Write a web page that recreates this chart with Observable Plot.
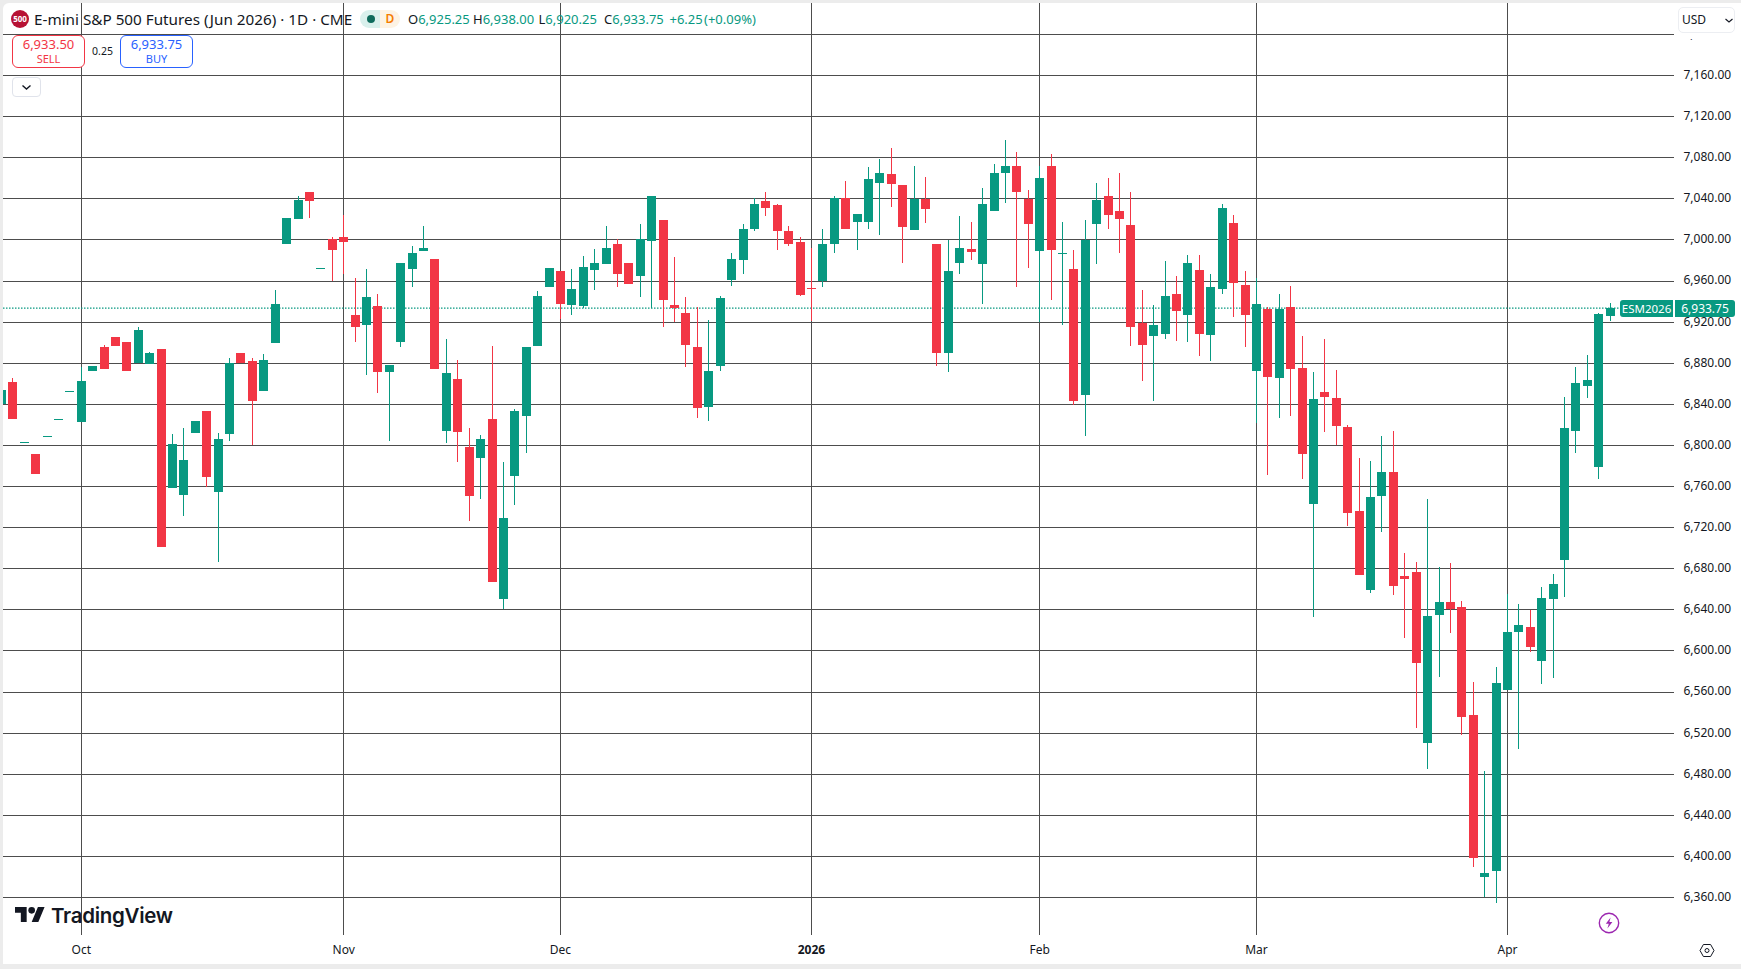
<!DOCTYPE html>
<html><head><meta charset="utf-8">
<style>
html,body{margin:0;padding:0;background:#ececec;width:1741px;height:969px;overflow:hidden}
#pane{position:absolute;left:3px;top:3px;width:1738px;height:961px;background:#fff;border-top-left-radius:6px}
#chart{position:absolute;left:0;top:0}
#chart svg{background:transparent!important;display:block}
.o{position:absolute;box-sizing:border-box;white-space:nowrap;font-family:"Noto Sans",sans-serif;color:#131722}
.box{border-radius:6px;background:#fff;text-align:center}
.box b{position:absolute;left:0;right:0;font-weight:400}
.q{position:absolute;top:10px;font-size:13px;line-height:18px;color:#089981;font-family:"Noto Sans",sans-serif;white-space:nowrap}
.q i{font-style:normal;color:#131722}
</style>
<script src="https://cdn.jsdelivr.net/npm/d3@7"></script>
<script src="https://cdn.jsdelivr.net/npm/@observablehq/plot@0.6"></script>
</head><body>
<div id="pane"></div>
<div id="chart"></div>

<div class="o" style="left:11px;top:10px;width:18px;height:18px;border-radius:50%;background:#b71234;color:#fff;font-size:8px;font-weight:700;line-height:18px;text-align:center">500</div>
<div class="o" id="title" style="left:34px;top:9px;font-size:15.25px;line-height:20px">E-mini S&amp;P 500 Futures (Jun 2026) · 1D · CME</div>
<div class="o" style="left:360px;top:10px;width:20px;height:18px;background:#d9f0ec;border-radius:9px 0 0 9px"></div>
<div class="o" style="left:380px;top:10px;width:20px;height:18px;background:#fdf3e4;border-radius:0 9px 9px 0;color:#f57c00;font-size:12px;font-weight:600;line-height:18px;text-align:center">D</div>
<div class="o" style="left:367px;top:15px;width:8px;height:8px;border-radius:50%;background:#0e6b5c"></div>
<div class="q" style="left:408px"><i>O</i>6,925.25</div>
<div class="q" style="left:473px"><i>H</i>6,938.00</div>
<div class="q" style="left:538.5px"><i>L</i>6,920.25</div>
<div class="q" style="left:604px"><i>C</i>6,933.75</div>
<div class="q" style="left:669.5px">+6.25</div>
<div class="q" style="left:704px">(+0.09%)</div>

<div class="o box" style="left:12px;top:35px;width:73px;height:33px;border:1px solid #f23645;color:#f23645"><b style="top:-1px;font-size:13px;line-height:18px">6,933.50</b><b style="top:16px;font-size:11px;line-height:14px">SELL</b></div>
<div class="o" style="left:86px;top:43px;width:33px;text-align:center;font-size:10.5px;line-height:16px">0.25</div>
<div class="o box" style="left:120px;top:35px;width:73px;height:33px;border:1px solid #2962ff;color:#2962ff"><b style="top:-1px;font-size:13px;line-height:18px">6,933.75</b><b style="top:16px;font-size:11px;line-height:14px">BUY</b></div>
<div class="o" style="left:12px;top:77px;width:29px;height:20px;border:1px solid #e0e3eb;border-radius:4px;background:#fff">
<svg width="27" height="18" style="position:absolute;left:0;top:0"><path d="M9.5 7.5 L13.5 11 L17.5 7.5" fill="none" stroke="#131722" stroke-width="1.4"/></svg></div>

<div class="o" style="left:1675px;top:3px;width:66px;height:35.5px;background:#fff"></div>
<div class="o" style="left:1678px;top:7px;width:57px;height:26px;border:1px solid #eceef2;border-radius:5px;font-size:12px;line-height:24px;padding-left:3px;background:#fff">USD
<svg width="10" height="8" style="position:absolute;left:45px;top:9px"><path d="M1.5 2 L5 5 L8.5 2" fill="none" stroke="#131722" stroke-width="1.1"/></svg></div>

<div class="o" style="left:1620px;top:300px;width:53px;height:17px;background:#089981;color:#fff;font-size:11.5px;line-height:17px;text-align:center;border-radius:3px 0 0 3px">ESM2026</div>
<div class="o" style="left:1675px;top:300px;width:60px;height:17px;background:#089981;color:#fff;font-size:12px;line-height:17px;text-align:center;border-radius:0 3px 3px 0">6,933.75</div>

<svg class="o" style="left:15px;top:907px" width="30" height="15" viewBox="0 4 36 18"><path fill="#131722" d="M14 22H7V11H0V4h14v18zM28 22h-8l7.5-18h8L28 22z"/><circle fill="#131722" cx="20" cy="8" r="4"/></svg>
<div class="o" style="left:51px;top:902px;font-family:Inter,sans-serif;font-size:20.5px;font-weight:600;line-height:28px;letter-spacing:-.3px">TradingView</div>

<svg class="o" style="left:1598px;top:912px" width="22" height="22"><circle cx="11" cy="11" r="9.7" fill="#fff" stroke="#9c27b0" stroke-width="1.4"/><path d="M12.6 5.5 L7.8 11.8 H10.8 L9.4 16.5 L14.4 10 H11.4 Z" fill="#9c27b0"/></svg>
<svg class="o" style="left:1699px;top:943px" width="16" height="15"><path d="M4.4 1.5 H11.6 L15 7.5 L11.6 13.5 H4.4 L1 7.5 Z" fill="none" stroke="#131722" stroke-width="1"/><circle cx="8" cy="7.5" r="2" fill="none" stroke="#131722"/></svg>

<script>
const opens=[6839.5,6860.9,6801.5,6790.8,6807.5,6824,6851.25,6821.9,6872.5,6894.9,6904.7,6899.8,6880,6878.4,6893.9,6757.7,6750.9,6811.2,6832.6,6753.8,6810.3,6889.1,6881.3,6852.1,6898.8,6996.1,7019.5,7045.8,6971,7000,7002.9,6926.1,6916.3,6934.8,6870.6,6899.8,6970.8,6988.4,6980.6,6813.2,
6863.8,6797.6,6786.9,6824.9,6649.7,6769.4,6828.7,6895.9,6953.3,6968.9,6935.8,6934.8,6969.9,6975.7,6995.2,6977.6,6964,6998.1,7018.5,6935.8,6928,6894.9,6836.5,6876.4,6960.1,6979.6,7010.7,7037,7033.1,7007.8,6997.1,6952.5,6959.8,6995.2,7039.9,7016.6,7016.6,7054.5,
7063.3,7052.6,7008.8,7039,6995.2,6890,6976.7,6990.3,6975.7,7027.3,7065.2,7071.1,7039,6988.4,7071.1,6985.6,6970.8,6848.2,7014.6,7041.9,7027.3,7013.7,6918.3,6905.6,6908.5,6946.5,6926.1,6969.9,6906.6,6951.4,7015.6,6955.3,6872.5,6931.9,6864.8,6933.9,6874.5,6742.1,
6851.9,6846.1,6817.8,6736.1,6659.2,6750.7,6774,6672.8,6676.2,6509.8,6634.4,6647,6642.2,6537.1,6379.4,6385.2,6561.4,6617.8,6622.7,6589.6,6650,6688.4,6813.9,6857.7,6778.9,6925.25];
const highs=[6854,6864.8,6802.5,6790.8,6808.5,6825,6852.25,6876,6876.4,6897.8,6904.7,6899.8,6914.4,6890.4,6893.9,6810.3,6816.1,6822.9,6832.6,6811.2,6884.2,6889.1,6884.2,6888.1,6950.4,7020.5,7041.9,7045.8,6972,7002,7023.4,6962.1,6970.8,6946.5,6877.4,6977.6,6993.2,7012.7,6980.6,6902.7,
6882.3,6816.1,6809.3,6895.9,6783,6834.6,6894.9,6949.4,6971.8,6968.9,6970.8,6983.5,6990.3,7012.7,7000,6977.6,7014.6,7041.9,7018.5,6982.5,6943.6,6933.9,6921.2,6944.6,6986.4,7014.6,7039.9,7045.8,7035,7012.7,7002.9,6991.3,7009.8,7041.9,7057.4,7025.3,7070.1,7077.9,
7088.6,7052.6,7071.1,7060.4,6995.2,6999.1,7022.4,7016.6,7049.7,7073,7097.3,7084.7,7047.7,7071.1,7082.8,7017.5,6989.3,7018.5,7054.5,7059.4,7065.2,7045.8,6950.4,6935.8,6978.6,6964,6984.5,6984.5,6966,7035,7023.4,6968.9,6962.7,6933.9,6946.5,6954.3,6905.6,6870.6,
6903.5,6873.3,6819.8,6787.7,6784.8,6809.1,6813.9,6695.2,6686,6747.8,6680.8,6685,6648,6569.2,6482.6,6583.8,6654.8,6645.1,6639.3,6661.6,6674.3,6847,6876.2,6887.9,6928.8,6938];
const lows=[6839.5,6824.9,6801.5,6771.3,6807.5,6824,6851.25,6821.9,6872.5,6873.5,6895.9,6871.6,6880,6878.4,6700.3,6757.7,6730.5,6811.2,6758.7,6685.7,6803.4,6879.4,6800.2,6852.1,6898.8,6996.1,7019.5,7020.5,6971,6959.8,6966.9,6899.8,6868.6,6850.2,6803.4,6894.9,6953.3,6988.4,6873.5,6801.5,
6783,6725.6,6747,6666.2,6640,6741.2,6791.8,6895.9,6953.3,6922.2,6927,6932.9,6950.4,6975.7,6953.3,6956.2,6943.6,6932.9,6914.4,6919.3,6875.5,6825.8,6822.9,6871.6,6954.3,6966.9,7007.8,7022.4,6989.3,6993.2,6944.6,6920.2,6953.3,6986.4,7010.7,6989.3,7009.8,7003.9,
7031.2,6976.7,7008.8,7015.6,6876.4,6870.6,6966,6979.6,6937.7,7027.3,7036,6953.3,6971.8,6919.3,6940.7,6916.3,6838.5,6808.3,6975.7,7010.7,6986.4,6895.9,6861.8,6843.3,6902.7,6900.8,6899.8,6886.2,6881.3,6946.5,6924.1,6894.9,6821,6770.4,6825.8,6828.7,6766.5,6632.5,
6813,6800,6721.5,6673.8,6656.3,6715.7,6654.3,6612,6524.4,6484.5,6574,6616.9,6517.6,6389.1,6360,6354.1,6561.4,6504,6598.4,6567.2,6573.1,6652.4,6792.5,6846.1,6767.2,6920.25];
const closes=[6854,6824.9,6802.5,6771.3,6808.5,6825,6852.25,6861.8,6876.4,6873.5,6895.9,6871.6,6912.4,6889.1,6700.3,6800.5,6785,6822.9,6768.4,6805.4,6880,6879.4,6842.4,6883.2,6936.8,7020.5,7038,7037,6972,6989.3,6997.1,6914.4,6943.6,6870.6,6877.4,6977.6,6986.4,6991.3,6873.5,6869.6,
6812.2,6749.9,6805.4,6666.2,6728.5,6832.6,6894.9,6944.6,6971.8,6936.8,6951.4,6972.8,6977.6,6992.2,6966.9,6956.2,7000,7041.9,6941.6,6932.9,6897.8,6835.6,6872.5,6942.6,6981.5,7010.7,7034.1,7030.2,7007.8,6996.1,6945.5,6951.5,6995.2,7039.9,7010.7,7025.3,7058.4,7065.2,
7053.6,7011.7,7039,7029.2,6890,6968.9,6992.2,6987.4,7034.1,7065.2,7072,7046.7,7014.6,7059.4,6989.3,6986.6,6842.4,6999.7,7038,7023.4,7019.5,6914.4,6897.8,6916.3,6944.6,6930,6977.6,6908.5,6953.3,7030.2,6957.2,6926.1,6936.8,6865.7,6931.9,6873.5,6790.8,6844.3,
6847,6818.8,6734.1,6673.8,6749.7,6774,6663.1,6669.9,6587.7,6633.4,6647,6639.9,6535.1,6397.9,6383.3,6568.2,6617.8,6624.7,6603.2,6650.9,6664.6,6816.9,6860.7,6863.6,6927.8,6933.75];
const priceTicks=[7200,7160,7120,7080,7040,7000,6960,6920,6880,6840,6800,6760,6720,6680,6640,6600,6560,6520,6480,6440,6400,6360];
const monthBars=[7,30,49,71,91,110,132];
const monthLabels=["Oct","Nov","Dec","2026","Feb","Mar","Apr"];
const lastPrice=[6933.75];

const bars=opens.map((o,i)=>({i,o,h:highs[i],l:lows[i],c:closes[i],dir:closes[i]>=o?"up":"down"}));
const fmt=d3.format(",.2f");
const labelFont="Noto Sans";

const chart=Plot.plot({
  width:1741,height:969,marginLeft:3,marginRight:67,marginTop:3,marginBottom:34,
  style:{background:"transparent",fontFamily:labelFont,fontSize:"12px",color:"#131722"},
  x:{type:"linear",domain:[0.185,146.64]},
  y:{type:"linear",domain:[6323.1,7230.17]},
  color:{domain:["up","down"],range:["#089981","#f23645"]},
  marks:[
    Plot.ruleY(priceTicks,{stroke:"#4d4d4d",strokeWidth:1,shapeRendering:"crispEdges"}),
    Plot.ruleX(monthBars,{stroke:"#4d4d4d",strokeWidth:1,shapeRendering:"crispEdges"}),
    Plot.ruleY(lastPrice,{stroke:"#089981",strokeWidth:1.3,strokeDasharray:"1.5 1.5"}),
    Plot.ruleX(bars,{x:"i",y1:"l",y2:"h",stroke:"dir",strokeWidth:1,clip:true,shapeRendering:"crispEdges"}),
    Plot.ruleX(bars,{x:"i",y1:"o",y2:"c",stroke:"dir",strokeWidth:9,clip:true,shapeRendering:"crispEdges"}),
    Plot.axisY({anchor:"right",ticks:priceTicks,tickSize:0,tickPadding:9,tickFormat:fmt,label:null,dy:-0.5}),
    Plot.axisX({anchor:"bottom",ticks:monthBars,tickSize:0,tickPadding:10,label:null,tickFormat:d=>monthLabels[monthBars.indexOf(d)]})
  ]
});
chart.querySelectorAll("text").forEach(t=>{if(t.textContent==="2026")t.setAttribute("font-weight","700")});
document.getElementById("chart").appendChild(chart);
</script>
</body></html>
